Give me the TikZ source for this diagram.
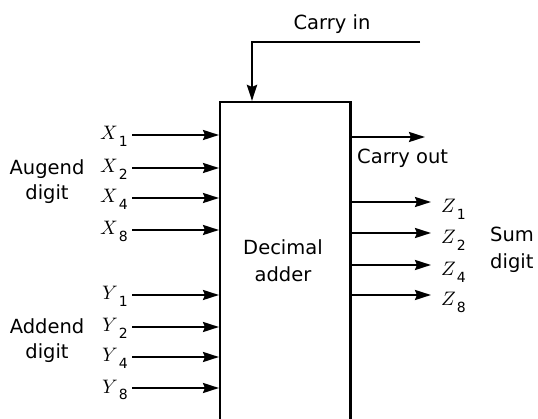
\documentclass[tikz,border=0pt]{standalone}
\usepackage{fontspec}
\setmainfont{DejaVu Sans}
\usetikzlibrary{arrows.meta}
\newcommand\varlbl[2]{\scalebox{1.95}{$#1$}\kern1pt\raisebox{-6.5pt}{\fontsize{14}{16}\selectfont #2}}
\begin{document}
\begin{tikzpicture}[x=1pt,y=-1pt,
  lbl/.style={font=\fontsize{19.5}{22}\selectfont, inner sep=0pt},
  var/.style={inner sep=0pt},
  boxline/.style={line width=2.4pt},
  arr/.style={line width=2.3pt, -{Stealth[length=16pt,width=10pt,inset=2pt]}}]
\useasboundingbox (0,0) rectangle (538,419);
% adder box (open at the bottom)
\node[minimum width=130pt, minimum height=325pt, inner sep=0pt, anchor=north west] (box) at (220,102) {};
\draw[boxline] (box.south west) -- (box.north west) -- (box.north east) -- (box.south east);
\node[lbl, anchor=base] (dec) at (283,255) {Decimal};
\node[lbl, anchor=base] (add) at (283,282) {adder};
% inputs
\foreach \n/\l/\s/\y in {x1/X/1/135, x2/X/2/168, x4/X/4/198, x8/X/8/230, y1/Y/1/295, y2/Y/2/327, y4/Y/4/357, y8/Y/8/388} {
  \coordinate (\n-t) at (219,\y);
  \node[var, anchor=base east] (\n) at (128,\y+5) {\varlbl{\l}{\s}};
  \draw[arr, shorten <=4pt] (\n.east |- \n-t) -- (\n-t);
}
\node[lbl, anchor=base] (aug) at (47,175) {Augend};
\node[lbl, anchor=base] (augd) at (47,200) {digit};
\node[lbl, anchor=base] (adn) at (47,334) {Addend};
\node[lbl, anchor=base] (adnd) at (47,359) {digit};
% outputs
\foreach \n/\s/\y in {z1/1/202, z2/2/233, z4/4/265, z8/8/295} {
  \coordinate (\n-s) at (351,\y);
  \node[var, anchor=base west] (\n) at (441,\y+11) {\varlbl{Z}{\s}};
  \draw[arr, shorten >=10pt] (\n-s) -- (\n.west |- \n-s);
}
\node[lbl, anchor=base west] (sum) at (490,242) {Sum};
\node[lbl, anchor=base west] (sumd) at (490,269) {digit};
% carry out
\coordinate (co) at (351,137);
\coordinate (coe) at (425,137);
\draw[arr] (co) -- (coe);
\node[lbl, anchor=base west] (colbl) at (357,164) {Carry out};
% carry in
\coordinate (cie) at (420,42);
\coordinate (cit) at (252,101);
\draw[arr, line width=2.7pt] (cie) -| (cit);
\node[lbl, anchor=base] (cilbl) at (332,30) {Carry in};
\end{tikzpicture}
\end{document}
